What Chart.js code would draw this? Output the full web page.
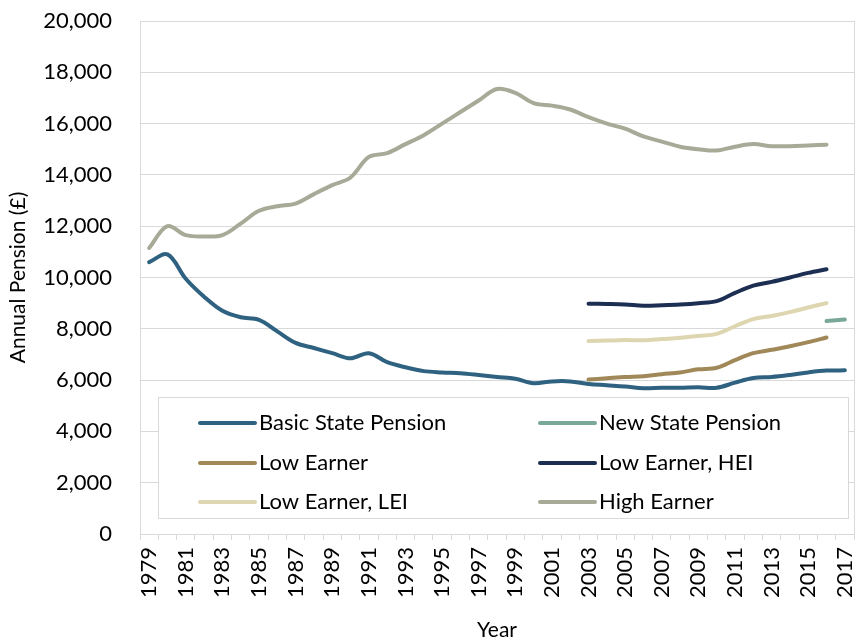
<!DOCTYPE html>
<html>
<head>
<meta charset="utf-8">
<script src="https://cdn.jsdelivr.net/npm/chart.js@4.4.1/dist/chart.umd.min.js"></script>
<style>
  html, body { margin: 0; padding: 0; background: #fff; }
  #wrap { width: 856px; height: 643px; position: relative; }
</style>
</head>
<body>
<div id="wrap"><canvas id="myChart"></canvas></div>
<script>
const years = [];
for (let y = 1979; y <= 2017; y++) years.push(String(y));

// 1979 - 2017
const basicState = [10600, 10900, 9950, 9250, 8700, 8450, 8350, 7900, 7450, 7250,
  7050, 6850, 7050, 6700, 6500, 6350, 6300, 6270, 6200, 6120,
  6050, 5880, 5950, 5950, 5850, 5800, 5750, 5680, 5700, 5700,
  5720, 5700, 5900, 6080, 6120, 6200, 6300, 6370, 6380];

// 2016 - 2017
const newState = [8300, 8360];

// 2003 - 2016
const lowEarner = [6020, 6070, 6120, 6150, 6230, 6300, 6420, 6480, 6780, 7050, 7180, 7320, 7480, 7660];
const lowEarnerHEI = [8980, 8970, 8950, 8900, 8920, 8950, 9000, 9080, 9400, 9680, 9830, 10000, 10180, 10320];
const lowEarnerLEI = [7520, 7540, 7560, 7550, 7600, 7650, 7720, 7800, 8100, 8380, 8500, 8650, 8830, 9000];

// 1979 - 2016
const highEarner = [11150, 12000, 11650, 11600, 11650, 12100, 12600, 12780, 12880, 13250,
  13600, 13900, 14700, 14850, 15200, 15550, 16000, 16450, 16900, 17350,
  17200, 16800, 16700, 16550, 16250, 16000, 15800, 15500, 15300, 15100,
  15000, 14950, 15100, 15200, 15120, 15120, 15150, 15180];

const yTicks = [0, 2000, 4000, 6000, 8000, 10000, 12000, 14000, 16000, 18000, 20000];

// put a series on the full year axis, starting at a given year
function place(values, startYear) {
  const out = years.map(() => null);
  const start = years.indexOf(String(startYear));
  values.forEach((v, i) => { out[start + i] = v; });
  return out;
}

const gridColor = '#d9d9d9';
const fontFamily = 'Lato, "Open Sans", sans-serif';

const legendBox = {
  id: 'legendBox',
  afterDatasetsDraw(chart) {
    const { ctx, chartArea } = chart;
    ctx.save();
    // right border of plot area
    ctx.strokeStyle = gridColor;
    ctx.lineWidth = 1;
    ctx.beginPath();
    ctx.moveTo(chartArea.right + 0.5, chartArea.top);
    ctx.lineTo(chartArea.right + 0.5, chartArea.bottom);
    ctx.stroke();

    // legend box
    const bx = 158, by = 397, bw = 690, bh = 121;
    ctx.fillStyle = '#fff';
    ctx.fillRect(bx, by, bw, bh);
    ctx.strokeRect(bx + 0.5, by + 0.5, bw, bh);

    const cols = [200, 540];
    const rows = [423, 463, 502];
    ctx.font = '22px ' + fontFamily;
    ctx.textBaseline = 'middle';
    chart.data.datasets.forEach((ds, i) => {
      const x = cols[i % 2];
      const y = rows[Math.floor(i / 2)];
      ctx.strokeStyle = ds.borderColor;
      ctx.lineWidth = 4;
      ctx.lineCap = 'round';
      ctx.beginPath();
      ctx.moveTo(x, y);
      ctx.lineTo(x + 55, y);
      ctx.stroke();
      ctx.fillStyle = '#000';
      ctx.fillText(ds.label, x + 59, y);
    });
    ctx.restore();
  }
};

const line = (label, data, color) => ({
  label: label,
  data: data,
  borderColor: color,
  backgroundColor: color,
  borderWidth: 4,
  pointRadius: 0,
  tension: 0.35,
  fill: false,
  spanGaps: false,
  borderCapStyle: 'round'
});

const data = {
  labels: years,
  datasets: [
    line('Basic State Pension', place(basicState, 1979), '#2f6280'),
    line('New State Pension', place(newState, 2016), '#7aa898'),
    line('Low Earner', place(lowEarner, 2003), '#a08858'),
    line('Low Earner, HEI', place(lowEarnerHEI, 2003), '#1c2e52'),
    line('Low Earner, LEI', place(lowEarnerLEI, 2003), '#ddd6b0'),
    line('High Earner', place(highEarner, 1979), '#a8aa98')
  ]
};

const config = {
  type: 'line',
  data: data,
  options: {
    responsive: true,
    maintainAspectRatio: false,
    animation: false,
    layout: { padding: { top: 0, right: 2, left: 0, bottom: 0 } },
    plugins: {
      legend: { display: false },
      tooltip: { enabled: false }
    },
    scales: {
      x: {
        offset: true,
        grid: { offset: true, drawOnChartArea: false, color: gridColor, tickLength: 6 },
        border: { color: gridColor },
        ticks: {
          autoSkip: false,
          minRotation: 90,
          maxRotation: 90,
          padding: 7,
          color: '#000',
          font: { family: fontFamily, size: 22 },
          callback: (v, i) => (i % 2 === 0 ? years[i] : '')
        },
        title: { display: true, text: 'Year', color: '#000', font: { family: fontFamily, size: 21 }, padding: { top: 0, bottom: 0 } },
        afterFit: (scale) => { scale.height = 109; scale.paddingLeft = 0; scale.paddingRight = 0; }
      },
      y: {
        min: 0,
        max: 20000,
        afterBuildTicks: (scale) => { scale.ticks = yTicks.map(v => ({ value: v })); },
        grid: { color: gridColor, drawTicks: false },
        border: { color: gridColor },
        ticks: {
          padding: 28,
          color: '#000',
          font: { family: fontFamily, size: 22 },
          callback: (v) => v.toLocaleString('en-US')
        },
        title: { display: true, text: 'Annual Pension (£)', color: '#000', font: { family: fontFamily, size: 21 }, padding: { top: 6, bottom: 0 } },
        afterFit: (scale) => { scale.width = 140; scale.paddingTop = 21; scale.paddingBottom = 0; }
      }
    }
  },
  plugins: [legendBox]
};

new Chart(document.getElementById('myChart'), config);
</script>
</body>
</html>
